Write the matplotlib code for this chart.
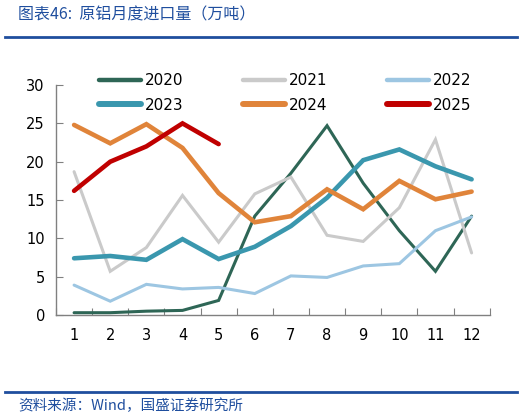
import matplotlib
matplotlib.use('Agg')
import matplotlib.pyplot as plt
from matplotlib.lines import Line2D

plt.rcParams['font.family'] = ['DejaVu Sans', 'Noto Sans CJK SC']

months = list(range(1, 13))
month_labels = [str(m) for m in months]

y2020 = [0.3, 0.3, 0.5, 0.6, 1.9, 12.9, 18.5, 24.7, 17.2, 11.0, 5.7, 12.9]
y2021 = [18.7, 5.7, 8.8, 15.6, 9.5, 15.8, 18.0, 10.4, 9.6, 14.0, 22.9, 8.1]
y2022 = [3.9, 1.8, 4.0, 3.4, 3.6, 2.8, 5.1, 4.9, 6.4, 6.7, 11.0, 12.8]
y2023 = [7.4, 7.7, 7.2, 9.9, 7.3, 8.9, 11.6, 15.3, 20.2, 21.6, 19.4, 17.7]
y2024 = [24.8, 22.4, 24.9, 21.8, 15.9, 12.1, 12.9, 16.4, 13.8, 17.5, 15.1, 16.1]
y2025 = [16.2, 20.0, 22.0, 25.0, 22.3]

series = [
    ('2020', y2020, '#2E6656', 2.2),
    ('2021', y2021, '#CACACA', 2.2),
    ('2022', y2022, '#9DC6E2', 2.2),
    ('2023', y2023, '#3A97AE', 3.3),
    ('2024', y2024, '#E0843A', 3.3),
    ('2025', y2025, '#C00000', 3.3),
]

fig = plt.figure(figsize=(5.25, 4.17), dpi=100)
ax = fig.add_axes([0.1067, 0.2446, 0.826, 0.5514])

for name, vals, color, lw in series:
    ax.plot(months[:len(vals)], vals, color=color, linewidth=lw,
            solid_capstyle='round', solid_joinstyle='miter', label=name)

ax.set_xlim(0.5, 12.5)
ax.set_ylim(0, 30)
ax.set_yticks(range(0, 31, 5))
ax.set_xticks([m + 0.5 for m in range(0, 13)])
ax.set_xticklabels([])
ax.set_xticks(months, minor=True)
ax.set_xticklabels(month_labels, minor=True)
ax.tick_params(axis='x', which='major', direction='in', length=5, color='#808080')
ax.tick_params(axis='x', which='minor', length=0, pad=9, labelsize=10.5)
ax.tick_params(axis='y', direction='in', length=5, color='#808080', labelsize=10.5, pad=8)
for s in ['top', 'right']:
    ax.spines[s].set_visible(False)
for s in ['left', 'bottom']:
    ax.spines[s].set_color('#808080')
    ax.spines[s].set_linewidth(1)

# legend fills column by column, so reorder to read row by row
order = [0, 3, 1, 4, 2, 5]
handles = [Line2D([0], [0], color=series[i][2], linewidth=series[i][3] + 1.0,
                  solid_capstyle='round') for i in order]
labels = [series[i][0] for i in order]
fig.legend(handles, labels, ncol=3, frameon=False,
           loc='upper left', bbox_to_anchor=(0.163, 0.857),
           fontsize=11, handlelength=2.7, handletextpad=0.3,
           columnspacing=3.9, labelspacing=0.6)

blue = '#1F4E9E'
fig.add_artist(Line2D([0.01, 0.985], [1 - 37 / 417] * 2, color=blue, linewidth=2))
fig.add_artist(Line2D([0.01, 0.985], [1 - 392 / 417] * 2, color=blue, linewidth=2))
fig.text(0.034, 1 - 15 / 417, '图表46:  原铝月度进口量（万吨）', color=blue, fontsize=11.5,
         style='italic', va='center', ha='left', family=['Noto Sans CJK SC', 'DejaVu Sans'])
fig.text(0.034, 1 - 406 / 417, '资料来源：Wind，国盛证券研究所', color=blue, fontsize=10.5,
         style='italic', va='center', ha='left', family=['Noto Sans CJK SC', 'DejaVu Sans'])

plt.savefig('out.png', dpi=100)
